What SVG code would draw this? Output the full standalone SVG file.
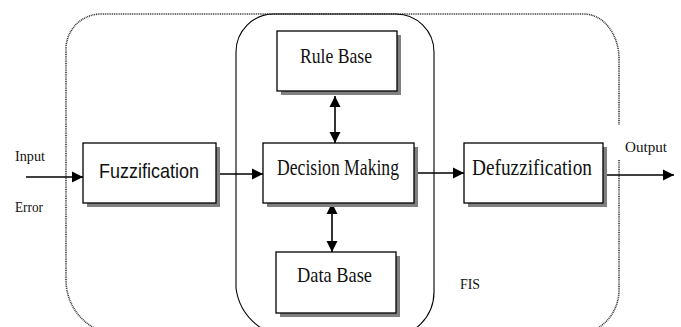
<svg xmlns="http://www.w3.org/2000/svg" width="681" height="327" viewBox="0 0 681 327">
<style>
.box{fill:#fff;stroke:#000;stroke-width:1.3}
.shadow{fill:#808080}
.conn{stroke:#000;stroke-width:1.6;fill:none}
</style>
<defs>
<marker id="ah" viewBox="0 0 10 10" refX="10" refY="5" markerUnits="userSpaceOnUse" markerWidth="11" markerHeight="12" orient="auto-start-reverse">
<path d="M0,0 L10,5 L0,10 z" fill="#000"/>
</marker>
</defs>
<rect width="681" height="327" fill="#fff"/>
<g id="fis-outer">
<path d="M66,280 L66,49 A35,35 0 0 1 101,14 L584,14 A35,45 0 0 1 619,59 L619,125 M619,160 L619,290 A45,45 0 0 1 574,335 L121,335 A55,55 0 0 1 66,280" fill="none" stroke="#333" stroke-width="1.6" stroke-dasharray="1 0.8"/>
</g>
<g id="inference-group">
<path d="M236,288 L236,52 A38,38 0 0 1 274,14 L396,14 A38,38 0 0 1 434,52 L434,292 A45,45 0 0 1 389,337 L292,337 A56,56 0 0 1 236,288" fill="none" stroke="#000" stroke-width="1.1"/>
</g>
<g id="connectors">
<line class="conn" x1="26" y1="177" x2="83" y2="177" marker-end="url(#ah)"/>
<line class="conn" x1="220" y1="174" x2="263" y2="174" marker-end="url(#ah)"/>
<line class="conn" x1="418" y1="173" x2="464" y2="173" marker-end="url(#ah)"/>
<line class="conn" x1="607" y1="175" x2="674" y2="175" marker-end="url(#ah)"/>
<line class="conn" x1="335" y1="96" x2="335" y2="143" marker-start="url(#ah)" marker-end="url(#ah)"/>
<line class="conn" x1="332" y1="203" x2="332" y2="252" marker-start="url(#ah)" marker-end="url(#ah)"/>
</g>
<g id="rule-base">
<rect class="shadow" x="281" y="35" width="120" height="60"/>
<rect class="box" x="277" y="31" width="120" height="60"/>
<text font-family="'Liberation Serif','DejaVu Serif',serif" fill="#111" x="300" y="63" font-size="22" textLength="72" lengthAdjust="spacingAndGlyphs">Rule Base</text>
</g>
<g id="fuzzification">
<rect class="shadow" x="87" y="147" width="133" height="60"/>
<rect class="box" x="83" y="143" width="133" height="60"/>
<text font-family="'Liberation Sans',Arial,sans-serif" fill="#111" x="99" y="178" font-size="21" textLength="100" lengthAdjust="spacingAndGlyphs">Fuzzification</text>
</g>
<g id="decision-making">
<rect class="shadow" x="267" y="147" width="151" height="60"/>
<rect class="box" x="263" y="143" width="151" height="60"/>
<text font-family="'Liberation Serif','DejaVu Serif',serif" fill="#111" x="277" y="175" font-size="23" textLength="122" lengthAdjust="spacingAndGlyphs">Decision Making</text>
</g>
<g id="defuzzification">
<rect class="shadow" x="468" y="147" width="139" height="60"/>
<rect class="box" x="464" y="143" width="139" height="60"/>
<text font-family="'Liberation Serif','DejaVu Serif',serif" fill="#111" x="472" y="175" font-size="23" textLength="120" lengthAdjust="spacingAndGlyphs">Defuzzification</text>
</g>
<g id="data-base">
<rect class="shadow" x="280" y="256" width="120" height="61"/>
<rect class="box" x="276" y="252" width="120" height="61"/>
<text font-family="'Liberation Serif','DejaVu Serif',serif" fill="#111" x="297" y="282" font-size="22" textLength="75" lengthAdjust="spacingAndGlyphs">Data Base</text>
</g>
<g id="labels" font-family="'Liberation Serif','DejaVu Serif',serif" fill="#111" font-size="15">
<text x="15" y="161" textLength="30" lengthAdjust="spacingAndGlyphs">Input</text>
<text x="15" y="212" textLength="28" lengthAdjust="spacingAndGlyphs">Error</text>
<text x="625" y="152" textLength="42" lengthAdjust="spacingAndGlyphs">Output</text>
<text x="460" y="289" textLength="20" lengthAdjust="spacingAndGlyphs">FIS</text>
</g>
</svg>
